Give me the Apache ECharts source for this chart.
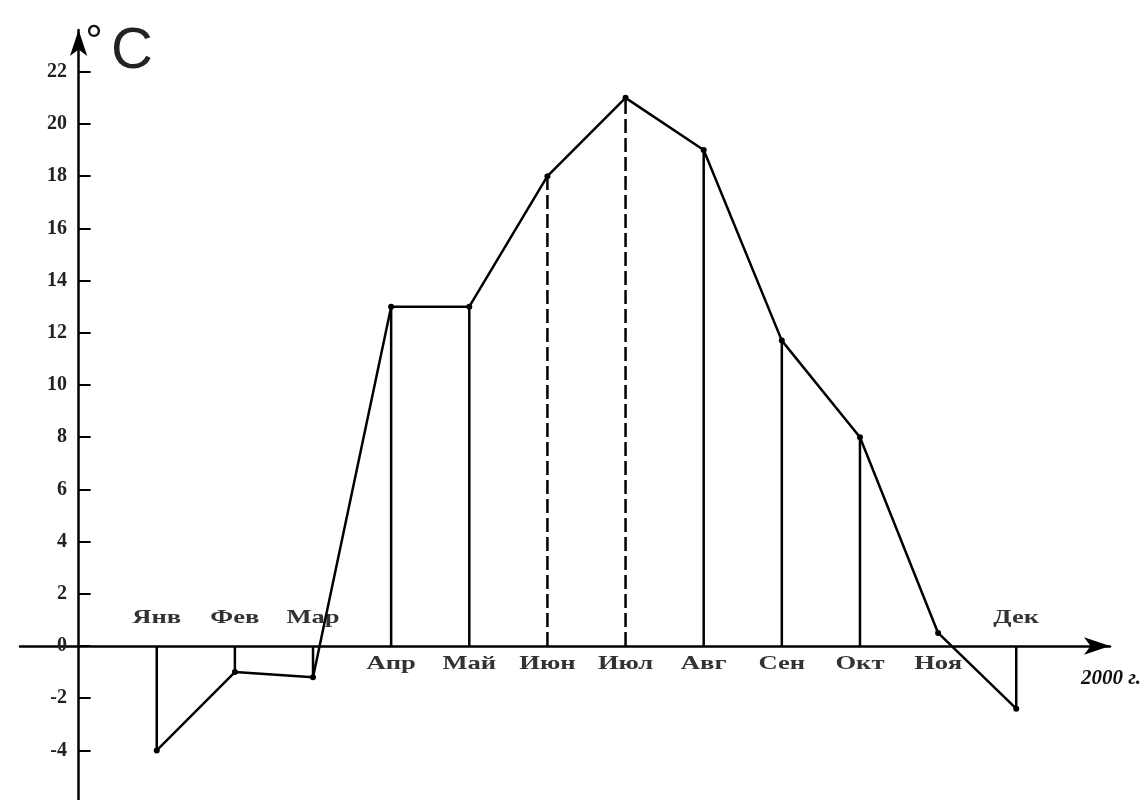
<!DOCTYPE html>
<html><head><meta charset="utf-8">
<script src="https://cdn.jsdelivr.net/npm/echarts@6/dist/echarts.min.js"></script>
<style>html,body{margin:0;padding:0;background:#fff}#c{width:1148px;height:800px}</style>
</head><body><div id="c"></div>
<script>
const months = ['Янв','Фев','Мар','Апр','Май','Июн','Июл','Авг','Сен','Окт','Ноя','Дек'];
const temps = [-4, -1, -1.2, 13, 13, 18, 21, 19, 11.7, 8, 0.5, -2.4];
const yTicks = [-4, -2, 0, 2, 4, 6, 8, 10, 12, 14, 16, 18, 20, 22];
const dropDash = ['solid','solid','solid','solid','solid','dashed','dashed','solid','solid','solid','none','solid'];

const points = temps.map((v, i) => [i + 1, v]);
const serif = '"Liberation Serif", "DejaVu Serif", serif';

const chart = echarts.init(document.getElementById('c'));
chart.setOption({
  animation: false,
  backgroundColor: '#fff',
  title: [
    { text: '°', left: 81, top: 17,
      textStyle: { fontSize: 40, fontFamily: serif, fontWeight: 'bold', color: '#111' } },
    { text: 'C', left: 106, top: 18,
      textStyle: { fontSize: 58, fontFamily: '"Liberation Sans", sans-serif', fontWeight: 'normal', color: '#222' } },
    { text: '2000 г.', right: 2, top: 663,
      textStyle: { fontSize: 21, fontFamily: serif, fontStyle: 'italic', fontWeight: 'bold', color: '#111' } }
  ],
  grid: { left: 20, right: 38, top: 30, bottom: 0, containLabel: false },
  xAxis: {
    type: 'value', min: -0.75, max: 13.2,
    axisLine: { onZero: true, symbol: ['none', 'arrow'], symbolSize: [13, 26], lineStyle: { color: '#000', width: 2.5 } },
    axisTick: { show: false }, axisLabel: { show: false }, splitLine: { show: false }
  },
  yAxis: {
    type: 'value', min: -5.9, max: 23.6,
    axisLine: { onZero: true, symbol: ['none', 'arrow'], symbolSize: [13, 26], lineStyle: { color: '#000', width: 2.5 } },
    axisTick: { customValues: yTicks, inside: true, length: 12, lineStyle: { color: '#000', width: 2 } },
    axisLabel: { customValues: yTicks, margin: -47, fontFamily: serif, fontWeight: 'bold', fontSize: 20, color: '#222' },
    splitLine: { show: false }
  },
  series: [
    {
      type: 'custom',
      data: points,
      renderItem: function (params, api) {
        const i = params.dataIndex;
        const x = api.value(0), v = api.value(1);
        const p0 = api.coord([x, 0]);
        const p1 = api.coord([x, v]);
        const children = [];
        if (dropDash[i] !== 'none') {
          children.push({
            type: 'line',
            shape: { x1: p0[0], y1: p0[1], x2: p1[0], y2: p1[1] },
            style: { stroke: '#000', lineWidth: 2.5, lineDash: dropDash[i] === 'dashed' ? [14, 5] : null }
          });
        }
        children.push({
          type: 'text',
          x: p0[0], y: v < 0 ? p0[1] - 28 : p0[1] + 18,
          scaleX: 1.4,
          style: { text: months[i], fontFamily: serif, fontWeight: 'bold', fontSize: 19,
                   fill: '#333', align: 'center', verticalAlign: 'middle' }
        });
        return { type: 'group', children: children };
      },
      z: 3
    },
    {
      type: 'line',
      data: points,
      symbol: 'circle', symbolSize: 6,
      itemStyle: { color: '#000' },
      lineStyle: { color: '#000', width: 2.5 },
      z: 4
    }
  ]
});
</script>
</body></html>
